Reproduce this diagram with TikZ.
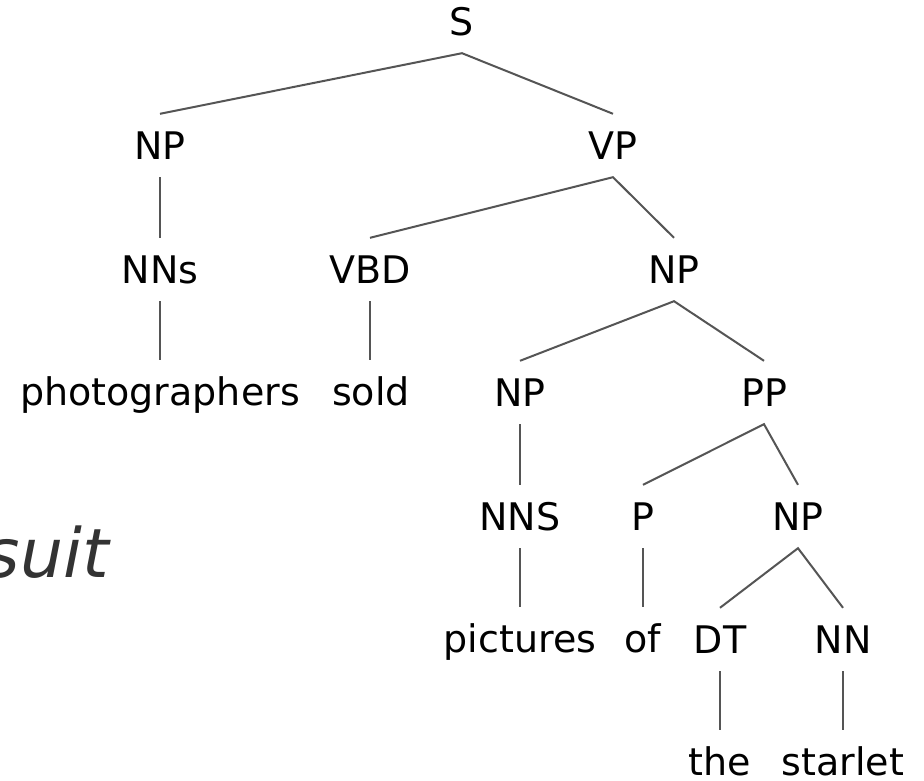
\documentclass[tikz,border=0pt]{standalone}
\usepackage{fontspec}
\setmainfont{DejaVu Sans}
\newfontfamily\treefamily{DejaVu Sans}
\newfontfamily\bigoblique{DejaVu Sans}[ItalicFont={DejaVu Sans Oblique}]
\definecolor{edgegray}{HTML}{555555}
\definecolor{suitgray}{HTML}{333333}
\tikzset{
  tn/.style={font=\treefamily\fontsize{38pt}{40pt}\selectfont, text=black,
    text height=27pt, text depth=0pt, inner xsep=0pt, inner ysep=18pt, anchor=base},
  % bottom leaves: same north anchor, but a tight box below the baseline
  lowleaf/.style={tn, text height=43pt, inner ysep=2pt},
  edge/.style={draw=edgegray, line width=2pt}
}
\begin{document}
\begin{tikzpicture}[x=1pt, y=-1pt]
\useasboundingbox[fill=white] (0,0) rectangle (924,780);

% stray word on the left
\node[font=\bigoblique\itshape\fontsize{68pt}{70pt}\selectfont, text=suitgray,
      anchor=base east, inner sep=0pt] (suit) at (109,577) {suit};

% row 1
\node[tn] (S) at (462,35) {S};
% row 2
\node[tn] (np1) at (160,159) {NP};
\node[tn] (vp) at (613,159) {VP};
% row 3
\node[tn] (nns1) at (160,283) {NNs};
\node[tn] (vbd) at (370,283) {VBD};
\node[tn] (np2) at (674,283) {NP};
% row 4
\node[tn] (photographers) at (160,405) {photographers};
\node[tn] (sold) at (371,405) {sold};
\node[tn] (np3) at (520,406) {NP};
\node[tn] (pp) at (764,406) {PP};
% row 5
\node[tn] (nns2) at (520,530) {NNS};
\node[tn] (p) at (643,530) {P};
\node[tn] (np4) at (798,530) {NP};
% row 6
\node[tn] (pictures) at (520,652) {pictures};
\node[tn] (of) at (643,652) {of};
\node[tn] (dt) at (720,653) {DT};
\node[tn] (nn) at (843,653) {NN};
% row 7
\node[lowleaf] (the) at (720,775) {the};
\node[lowleaf] (starlet) at (843,775) {starlet};

% branches
\draw[edge] (np1.north) -- (S.south) -- (vp.north);
\draw[edge] (np1.south) -- (nns1.north);
\draw[edge] (nns1.south) -- (photographers.north);
\draw[edge] (vbd.north) -- (vp.south) -- (np2.north);
\draw[edge] (vbd.south) -- (vbd.south |- sold.north);
\draw[edge] (np3.north) -- (np2.south) -- (pp.north);
\draw[edge] (np3.south) -- (nns2.north);
\draw[edge] (nns2.south) -- (pictures.north);
\draw[edge] (p.north) -- (pp.south) -- (np4.north);
\draw[edge] (p.south) -- (of.north);
\draw[edge] (dt.north) -- (np4.south) -- (nn.north);
\draw[edge] (dt.south) -- (the.north);
\draw[edge] (nn.south) -- (starlet.north);
\end{tikzpicture}
\end{document}
